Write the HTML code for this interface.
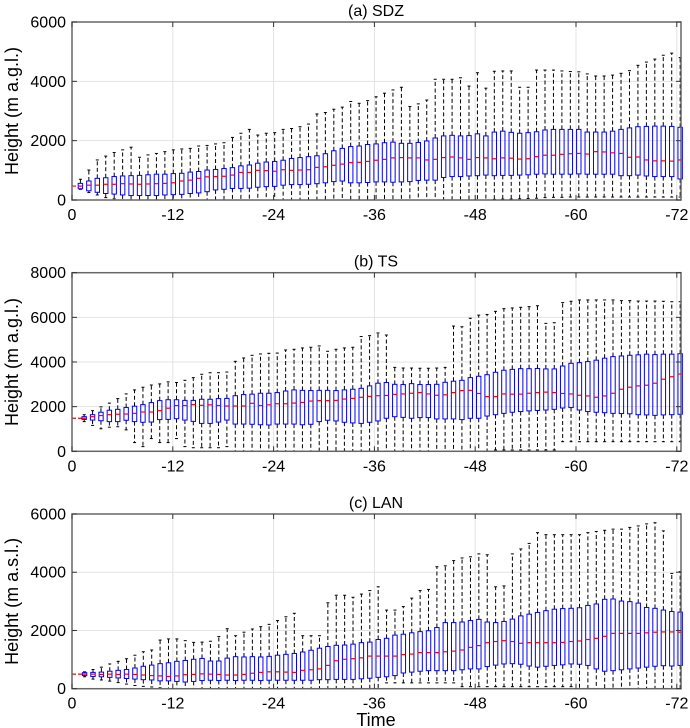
<!DOCTYPE html>
<html><head><meta charset="utf-8"><style>
body{margin:0;background:#fff;}
svg{display:block;font-family:"Liberation Sans",Arial,sans-serif;}
</style></head><body>
<svg id="chart" width="690" height="728" viewBox="0 0 690 728" xmlns="http://www.w3.org/2000/svg"></svg>
<script>
// Panel (a) SDZ
const aTop=[700,1010,1350,1480,1600,1690,1780,1440,1520,1570,1630,1690,1720,1740,1820,1840,1890,1930,2110,2250,2380,2190,2250,2270,2380,2410,2470,2560,2900,2950,3060,3130,3320,3260,3350,3480,3600,3710,3800,3150,3240,3370,4070,4070,4070,4120,3840,4290,3770,4340,4350,4350,3800,3800,4380,4380,4380,4350,4330,4320,4250,4180,4180,4210,4270,4360,4540,4650,4750,4880,4950,4800];
const aQ3=[560,640,730,750,790,810,820,830,850,870,870,890,900,940,960,1010,1030,1060,1090,1150,1180,1240,1280,1300,1340,1400,1430,1460,1490,1560,1660,1740,1800,1820,1870,1890,1930,1950,1910,1910,1940,1990,2090,2160,2180,2160,2170,2230,2160,2290,2320,2280,2250,2270,2300,2360,2380,2380,2380,2380,2290,2290,2290,2320,2380,2430,2470,2480,2490,2490,2480,2450];
const aMed=[470,500,500,530,530,550,540,530,540,550,560,580,640,670,730,780,790,800,840,930,930,1000,990,970,1020,1000,1010,1020,1100,1120,1170,1210,1260,1270,1300,1340,1370,1420,1430,1420,1420,1350,1370,1430,1450,1420,1370,1430,1420,1390,1420,1410,1380,1390,1460,1510,1510,1540,1560,1570,1550,1630,1620,1590,1570,1440,1450,1350,1320,1320,1310,1350];
const aQ1=[380,310,260,220,200,170,150,150,150,150,170,180,190,220,240,280,340,360,390,390,400,430,450,460,500,520,520,530,550,580,620,640,580,580,590,610,610,600,610,620,660,670,670,760,790,790,810,820,840,820,830,830,840,850,870,880,870,870,870,880,870,870,870,870,820,820,840,810,790,790,790,710];
const aLow=[360,250,170,80,40,0,0,0,0,0,0,0,0,0,0,0,0,0,0,0,0,0,0,0,0,0,0,0,0,0,0,0,0,0,0,0,0,0,0,0,0,0,0,0,0,0,0,0,0,20,30,30,40,50,60,80,90,90,100,100,100,100,100,100,100,100,100,100,100,100,100,100];
// Panel (b) TS
const bTop=[1640,1820,1990,2160,2360,2570,2750,2870,2970,3020,3110,3080,3180,3300,3450,3520,3520,3550,4030,4180,4300,4360,4390,4400,4540,4570,4630,4660,4720,4480,4570,4630,4660,5140,5180,5300,5210,3760,3730,3730,3720,3720,3730,3760,5610,5580,5960,6100,6130,6270,6390,6420,6450,6480,6520,5730,5760,6660,6720,6780,6780,6780,6780,6780,6750,6750,6730,6730,6730,6720,6700,6700];
const bQ3=[1550,1640,1750,1840,1880,1960,2020,2090,2180,2270,2310,2310,2280,2280,2330,2330,2360,2370,2490,2540,2560,2600,2600,2630,2700,2750,2730,2720,2730,2730,2720,2750,2780,2820,2930,3050,3080,3000,2990,3030,2990,2990,3000,3090,3140,3180,3300,3360,3430,3540,3630,3670,3700,3700,3710,3690,3690,3820,3940,3970,4020,4080,4170,4240,4270,4300,4320,4350,4330,4350,4350,4370];
const bMed=[1480,1550,1600,1640,1660,1670,1700,1760,1760,1820,1930,2050,2050,2090,2060,2080,2050,2030,2030,2030,2150,2050,2080,2130,2130,2160,2190,2250,2270,2270,2280,2340,2370,2420,2460,2490,2500,2550,2570,2600,2630,2570,2510,2530,2630,2720,2730,2590,2450,2450,2570,2560,2560,2600,2630,2650,2630,2590,2570,2510,2480,2420,2480,2600,2780,2870,2930,2960,3050,3230,3340,3460];
const bQ1=[1430,1400,1370,1330,1330,1390,1330,1300,1310,1420,1430,1460,1400,1340,1250,1250,1310,1400,1220,1220,1210,1190,1180,1220,1220,1220,1190,1210,1330,1390,1360,1300,1270,1250,1300,1360,1480,1550,1520,1480,1510,1510,1450,1450,1450,1420,1480,1480,1580,1640,1700,1750,1780,1810,1830,1850,1880,1940,1960,1850,1780,1750,1730,1700,1690,1680,1640,1630,1610,1630,1640,1660];
const bLow=[1330,1160,1010,1080,1100,960,390,210,570,390,390,570,210,160,160,160,160,210,0,0,0,0,0,0,0,0,0,0,0,0,0,0,0,0,0,0,0,0,0,0,0,0,0,0,0,0,0,0,0,60,60,60,60,60,60,60,60,430,430,430,430,430,430,430,430,430,430,430,430,430,430,430];
// Panel (c) LAN
const cTop=[580,660,740,850,940,1030,1150,1270,1330,1670,1710,1710,1650,1590,1600,1630,1790,2060,1820,1940,2050,2130,2210,2340,2470,2590,1820,1820,1820,2950,3210,3210,3140,3250,3370,3500,2700,2700,2820,3110,3370,3410,4190,4220,4400,4490,4530,4630,4600,3500,3530,4630,4800,4990,5360,5290,5290,5290,5290,5290,5360,5400,5440,5480,5480,5540,5590,5660,5700,5420,3960,4020];
const cQ3=[550,560,570,600,630,660,710,770,810,860,890,940,970,1010,1040,950,950,1050,1100,1090,1100,1090,1110,1150,1180,1210,1260,1320,1390,1450,1490,1500,1530,1580,1600,1690,1730,1840,1870,1920,1960,1990,2100,2270,2270,2290,2340,2380,2290,2270,2310,2390,2500,2560,2620,2680,2730,2750,2760,2780,2860,2910,3070,3080,3010,2990,2940,2790,2760,2700,2650,2630];
const cMed=[500,500,490,500,490,500,490,470,450,440,420,440,480,490,510,500,490,470,470,490,530,560,580,580,570,560,630,650,680,800,960,1010,1030,1060,1120,1120,1120,1120,1170,1190,1240,1240,1240,1270,1290,1330,1420,1480,1580,1620,1650,1620,1560,1580,1580,1580,1580,1590,1620,1640,1690,1730,1800,1900,1900,1900,1900,1920,1940,1950,1950,1940];
const cQ1=[450,420,410,390,370,350,330,310,300,270,270,250,230,250,280,290,280,290,280,290,290,280,290,290,290,290,290,290,310,310,320,320,320,340,360,390,410,450,540,570,600,620,620,620,620,650,680,680,760,810,850,860,840,780,740,770,800,820,850,840,800,680,600,620,650,680,710,740,770,790,780,800];
const cLow=[410,330,300,260,210,160,110,80,60,30,0,0,0,0,0,0,0,0,0,0,0,0,0,0,0,0,0,0,0,0,0,0,0,0,0,0,200,200,200,200,200,200,200,200,200,70,70,70,70,70,70,70,70,70,70,70,70,70,70,0,0,0,0,0,0,0,0,0,0,0,0,0];
const xTicks=[0,-12,-24,-36,-48,-60,-72];

const NS='http://www.w3.org/2000/svg';
const svg=document.getElementById('chart');
function mk(tag,attrs,parent){const e=document.createElementNS(NS,tag);for(const k in attrs)e.setAttribute(k,attrs[k]);(parent||svg).appendChild(e);return e;}

const X0=72,X1=681,XMAX=72.5;
const xs=v=>X0+v*(X1-X0)/XMAX;

function panel(p){
  const g=mk('g',{});
  
  
  const ys=v=>p.bot-(v/p.ymax)*(p.bot-p.top);
  const step=(xs(72.4)-xs(1+p.off))/71;
  const bx=i=>xs(1+p.off)+i*step;
  xTicks.forEach(t=>{const l=mk('line',{x1:xs(-t),x2:xs(-t),y1:p.top,y2:p.bot,stroke:'#e3e3e3','stroke-width':1},g);
    });
  p.yTicks.forEach(t=>{const l=mk('line',{x1:X0,x2:X1,y1:ys(t),y2:ys(t),stroke:'#e3e3e3','stroke-width':1},g);
    });
  // median lead-in dash
  const lead=mk('line',{x1:X0,x2:bx(0),y1:ys(p.med[0]),y2:ys(p.med[0]),stroke:'#ff0000','stroke-width':1.2,'stroke-dasharray':'4,2'},g);
  
  for(let i=0;i<p.top_.length;i++){
    const x=bx(i),w=4.4;
    const bg=mk('g',{},g);
    
    
    mk('line',{x1:x,x2:x,y1:ys(p.q3[i]),y2:ys(p.top_[i]),stroke:'#000','stroke-width':1,'stroke-dasharray':'4,2.5'},bg);
    mk('line',{x1:x,x2:x,y1:ys(p.q1[i]),y2:ys(p.low[i]),stroke:'#000','stroke-width':1,'stroke-dasharray':'4,2.5'},bg);
    mk('line',{x1:x-1.5,x2:x+1.5,y1:ys(p.top_[i]),y2:ys(p.top_[i]),stroke:'#000','stroke-width':1},bg);
    mk('line',{x1:x-1.5,x2:x+1.5,y1:ys(p.low[i]),y2:ys(p.low[i]),stroke:'#000','stroke-width':1},bg);
    mk('rect',{x:x-w/2,y:ys(p.q3[i]),width:w,height:Math.max(0.5,ys(p.q1[i])-ys(p.q3[i])),fill:'none',stroke:'#0000ff','stroke-width':1},bg);
    mk('line',{x1:x-w/2,x2:x+w/2,y1:ys(p.med[i]),y2:ys(p.med[i]),stroke:'#ff0000','stroke-width':1.2},bg);
  }
  const f=mk('rect',{x:X0,y:p.top,width:X1-X0,height:p.bot-p.top,fill:'none',stroke:'#666','stroke-width':1.5},g);
  
  xTicks.forEach(t=>{
    mk('line',{x1:xs(-t),x2:xs(-t),y1:p.bot,y2:p.bot-5,stroke:'#333'},g);
    mk('line',{x1:xs(-t),x2:xs(-t),y1:p.top,y2:p.top+5,stroke:'#333'},g);
    const tx=mk('text',{x:xs(-t),y:p.bot+20,'font-size':16,'text-anchor':'middle',fill:'#000'},g);
    
    tx.textContent=t;
  });
  p.yTicks.forEach(t=>{
    mk('line',{x1:X0,x2:X0+5,y1:ys(t),y2:ys(t),stroke:'#333'},g);
    mk('line',{x1:X1,x2:X1-5,y1:ys(t),y2:ys(t),stroke:'#333'},g);
    const tx=mk('text',{x:X0-6,y:ys(t)+5.5,'font-size':16,'text-anchor':'end',fill:'#000'},g);
    
    tx.textContent=t;
  });
  const ti=mk('text',{x:376,y:p.top-6,'font-size':16,'text-anchor':'middle',fill:'#000'},g);
  
  ti.textContent=p.title;
  const yl=mk('text',{x:0,y:0,'font-size':18,'text-anchor':'middle',fill:'#000',transform:`translate(18,${(p.top+p.bot)/2}) rotate(-90)`},g);
  
  yl.textContent=p.ylabel;
}
panel({name:'panel-a-sdz',title:'(a) SDZ',ylabel:'Height (m a.g.l.)',top:22,bot:200,ymax:6000,off:0,yTicks:[0,2000,4000,6000],top_:aTop,q3:aQ3,med:aMed,q1:aQ1,low:aLow});
panel({name:'panel-b-ts',title:'(b) TS',ylabel:'Height (m a.g.l.)',top:272.7,bot:451.3,ymax:8000,off:0.45,yTicks:[0,2000,4000,6000,8000],top_:bTop,q3:bQ3,med:bMed,q1:bQ1,low:bLow});
panel({name:'panel-c-lan',title:'(c) LAN',ylabel:'Height (m a.s.l.)',top:514,bot:688.7,ymax:6000,off:0.5,yTicks:[0,2000,4000,6000],top_:cTop,q3:cQ3,med:cMed,q1:cQ1,low:cLow});
const xt=mk('text',{x:376,y:726,'font-size':18,'text-anchor':'middle',fill:'#000'});


xt.textContent='Time';
</script>
</body></html>
